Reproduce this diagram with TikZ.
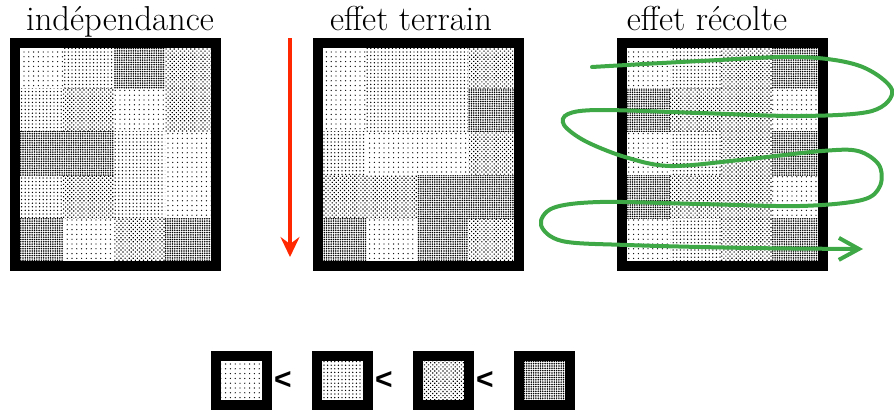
\documentclass[tikz,border=0pt]{standalone}
\usepackage{fontspec}
\newfontfamily\signfont{Liberation Sans}
\usetikzlibrary{patterns.meta,arrows.meta}
\definecolor{fieldgreen}{RGB}{62,168,70}
\definecolor{flowred}{RGB}{255,40,0}
\tikzset{
  dens1/.style={pattern={Dots[distance=2.4pt,radius=0.34pt]}},
  dens2/.style={pattern={Dots[distance=1.8pt,radius=0.36pt]}},
  dens3/.style={pattern={Dots[distance=1.45pt,radius=0.41pt,angle=45]}},
  dens4/.style={pattern={Dots[distance=1.15pt,radius=0.44pt]}},
  frame/.style={draw=black,line width=5pt},
  title/.style={font=\fontsize{17.3}{20}\selectfont,anchor=base,inner sep=0pt},
  sign/.style={font=\signfont\bfseries\fontsize{15}{18}\selectfont,inner sep=0pt},
  redflow/.style={draw=flowred,line width=1.75pt,-{Stealth[length=10pt,width=9.5pt,inset=3.5pt]}},
  greenflow/.style={draw=fieldgreen,line width=2pt,line cap=round,-{Straight Barb[length=10pt,width=11pt]}}
}
% 4 x 5 grid of plots; #1 = horizontal offset, #2 = rows of density levels
\newcommand\fieldcells[2]{%
  \foreach \r/\la/\lb/\lc/\ld in {#2}{%
    \foreach \q/\lv in {0/\la,1/\lb,2/\lc,3/\ld}{%
      \path[dens\lv] ({#1+12+51*\q},{44.5+43.5*(\r-1)}) rectangle +(51,43.5);
    }}}
\begin{document}
\begin{tikzpicture}[x=0.5pt,y=-0.5pt]
\useasboundingbox (0,0) rectangle (894,412);

% field 1: independent plots
\fieldcells{0}{1/1/2/4/3, 2/2/3/1/3, 3/4/4/2/1, 4/2/3/2/1, 5/4/1/3/4}
\draw[frame] (15,43) rectangle (216,266);
\node[title] (t1) at (120,30) {indépendance};

% field 2: terrain effect
\fieldcells{303}{1/1/2/2/3, 2/1/2/2/4, 3/2/1/1/3, 4/3/3/4/4, 5/4/1/4/3}
\draw[frame] (318,43) rectangle (519,266);
\node[title] (t2) at (411,30) {effet terrain};

% field 3: harvest effect
\fieldcells{607}{1/1/2/3/4, 2/4/3/3/1, 3/1/2/3/4, 4/4/3/3/1, 5/1/2/3/4}
\draw[frame] (622,43) rectangle (823,266);
\node[title] (t3) at (707,30) {effet récolte};

% terrain gradient
\coordinate (rtop) at (290,38);
\coordinate (rtip) at (290,257);
\draw[redflow] (rtop) -- (rtip);

% harvest path
\draw[greenflow] plot[smooth,tension=0.55] coordinates {
  (592,67) (700,61) (800,57) (860,66) (892,90) (872,111) (800,116)
  (700,113) (600,110) (568,114) (564,125) (585,141) (625,157) (670,166)
  (740,160) (822,151) (858,151) (879,165) (880,186) (862,200) (800,206)
  (700,204) (600,202) (553,208) (541,225) (562,241) (627,245) (750,248) (863,249)};

% density scale
\foreach \i/\lv in {0/1,1/2,2/3,3/4}{
  \path[dens\lv] (221+101*\i,361) rectangle (262+101*\i,400);
  \draw[frame] (216+101*\i,356) rectangle (267+101*\i,405);
}
\node[sign] (s1) at (283,380) {<};
\node[sign] (s2) at (384,380) {<};
\node[sign] (s3) at (485,380) {<};
\end{tikzpicture}
\end{document}
